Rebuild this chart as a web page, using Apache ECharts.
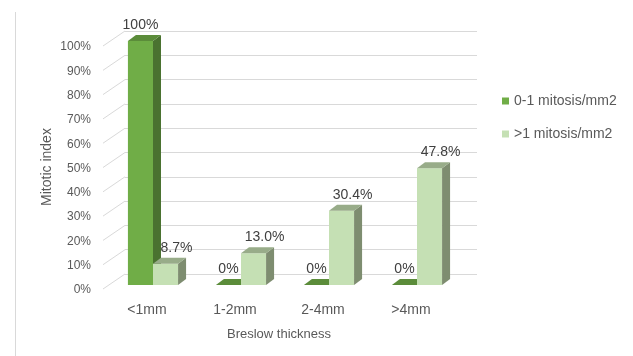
<!DOCTYPE html>
<html>
<head>
<meta charset="utf-8">
<script src="https://cdn.jsdelivr.net/npm/echarts@6/dist/echarts.min.js"></script>
<style>
html,body{margin:0;padding:0;background:#fff;}
#chart{width:633px;height:356px;}
</style>
</head>
<body>
<div id="chart"></div>
<script>
var categories = ['<1mm', '1-2mm', '2-4mm', '>4mm'];
var seriesNames = ['0-1 mitosis/mm2', '>1 mitosis/mm2'];
var lowMitosis = [100, 0, 0, 0];
var highMitosis = [8.7, 13.0, 30.4, 47.8];
var lowLabels = ['100%', '0%', '0%', '0%'];
var highLabels = ['8.7%', '13.0%', '30.4%', '47.8%'];
var yTicks = [0, 10, 20, 30, 40, 50, 60, 70, 80, 90, 100];

var FONT = '"Liberation Sans", Arial, sans-serif';
var palettes = [
  {front: '#70AD47', side: '#4A7230', top: '#5B8C3A'},
  {front: '#C5E0B4', side: '#7E8D70', top: '#98AC89'}
];

function bar3D(which, labels, labelDx) {
  return function (params, api) {
    var cat = api.value(0), v = api.value(1);
    var base = api.coord([cat, 0]);
    var top = api.coord([cat, v]);
    var band = api.size([1, 0])[0];
    var w = band * 0.285;
    var x0 = which === 0 ? base[0] - w : base[0];
    var x1 = x0 + w;
    var yb = base[1], yt = top[1];
    var dx = 8, dy = 6;
    var c = palettes[which];
    var children = [];
    if (yb - yt > 0.5) {
      children.push({type: 'rect', shape: {x: x0, y: yt, width: w, height: yb - yt}, style: {fill: c.front}});
      children.push({type: 'polygon', shape: {points: [[x1, yb], [x1 + dx, yb - dy], [x1 + dx, yt - dy], [x1, yt]]}, style: {fill: c.side}});
    }
    children.push({type: 'polygon', shape: {points: [[x0, yt], [x0 + dx, yt - dy], [x1 + dx, yt - dy], [x1, yt]]}, style: {fill: c.top}});
    children.push({type: 'text', style: {text: labels[params.dataIndex], x: (x0 + x1) / 2 + labelDx, y: yt - 16,
      align: 'center', verticalAlign: 'middle', fill: '#404040', font: '14px ' + FONT}});
    return {type: 'group', children: children};
  };
}

var chart = echarts.init(document.getElementById('chart'));
var option = {
  animation: false,
  backgroundColor: '#fff',
  grid: [
    {left: 103, right: 178, top: 47, bottom: 66},   // front: tick labels and category labels
    {left: 125, right: 156, top: 31, bottom: 82},   // back wall gridlines
    {left: 109, right: 172, top: 41, bottom: 71}    // bars
  ],
  xAxis: [
    {gridIndex: 0, type: 'category', data: categories, axisLine: {show: false}, axisTick: {show: false},
      axisLabel: {color: '#595959', fontFamily: FONT, fontSize: 14, margin: 13}},
    {gridIndex: 1, type: 'category', data: categories, show: false},
    {gridIndex: 2, type: 'category', data: categories, show: false}
  ],
  yAxis: [
    {gridIndex: 0, type: 'value', min: 0, max: 100, interval: 10, splitLine: {show: false},
      axisLine: {show: false}, axisTick: {show: false},
      axisLabel: {formatter: '{value}%', color: '#595959', fontFamily: FONT, fontSize: 12, margin: 12}},
    {gridIndex: 1, type: 'value', min: 0, max: 100, interval: 10, axisLabel: {show: false},
      axisLine: {show: false}, axisTick: {show: false}, splitLine: {lineStyle: {color: '#D9D9D9', width: 1}}},
    {gridIndex: 2, type: 'value', min: 0, max: 100, interval: 10, show: false, splitLine: {show: false}}
  ],
  legend: {
    orient: 'vertical', left: 497, top: 88, itemWidth: 7, itemHeight: 7, itemGap: 17, icon: 'rect',
    data: seriesNames,
    textStyle: {color: '#595959', fontFamily: FONT, fontSize: 14, lineHeight: 16}
  },
  graphic: [
    {type: 'line', shape: {x1: 15.5, y1: 12, x2: 15.5, y2: 356}, style: {stroke: '#D9D9D9', lineWidth: 1}},
    {type: 'text', x: 47, y: 167, rotation: Math.PI / 2,
      style: {text: 'Mitotic index', align: 'center', verticalAlign: 'middle', fill: '#595959', font: '14px ' + FONT}},
    {type: 'text', x: 279, y: 334,
      style: {text: 'Breslow thickness', align: 'center', verticalAlign: 'middle', fill: '#595959', font: '13px ' + FONT}}
  ],
  series: [
    {
      type: 'custom', name: 'diag', xAxisIndex: 0, yAxisIndex: 0, silent: true,
      data: yTicks.map(function (t) { return [0, t]; }),
      renderItem: function (params, api) {
        var p = api.coord([0, api.value(1)]);
        var x = params.coordSys.x;
        return {type: 'line', shape: {x1: x, y1: p[1] - 1, x2: x + 22, y2: p[1] - 16},
          style: {stroke: '#D9D9D9', lineWidth: 1}};
      },
      z: 1
    },
    {
      type: 'custom', name: seriesNames[0], xAxisIndex: 2, yAxisIndex: 2,
      itemStyle: {color: palettes[0].front},
      data: lowMitosis.map(function (v, i) { return [i, v]; }),
      renderItem: bar3D(0, lowLabels, 0), z: 3
    },
    {
      type: 'custom', name: seriesNames[1], xAxisIndex: 2, yAxisIndex: 2,
      itemStyle: {color: palettes[1].front},
      data: highMitosis.map(function (v, i) { return [i, v]; }),
      renderItem: bar3D(1, highLabels, 11), z: 4
    }
  ]
};
chart.setOption(option);
</script>
</body>
</html>
